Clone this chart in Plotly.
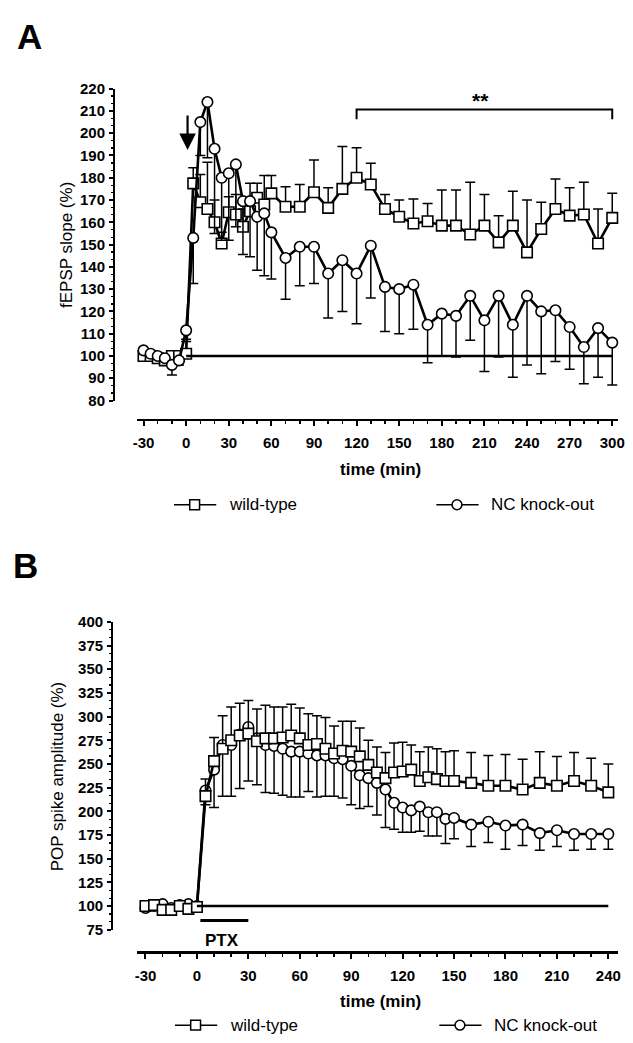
import plotly.graph_objects as go

W, H = 633, 1043

# ---------------- Panel A data (fEPSP slope, %) ----------------
a_time = [-30, -25, -20, -15, -10, -5, 0,
          5, 10, 15, 20, 25, 30, 35, 40, 45, 50, 55, 60,
          70, 80, 90, 100, 110, 120, 130, 140, 150, 160, 170, 180, 190, 200,
          210, 220, 230, 240, 250, 260, 270, 280, 290, 300]
a_wt = [100, 100, 99, 98, 100, 100, 101,
        177.5, 169, 166, 160, 150.5, 164.5, 163.5, 158, 165, 171, 168, 173,
        167, 167, 173.5, 166.5, 175, 180, 177, 166, 162.5, 159.5, 160.5, 158.5, 158.5, 154.5,
        158.5, 151, 158.5, 146.5, 157, 166, 163, 163.5, 150.5, 162]
a_wt_err = [1, 1, 1.5, 1.5, 1, 1.5, 5.5,
            7, 12.5, 21, 10, 5, 7, 9, 8, 12.5, 6.5, 13, 8,
            9, 10, 14.5, 9, 19, 13.5, 9.5, 6.5, 7.5, 11, 8, 16, 16, 23.5,
            14, 12, 15.5, 23.5, 12, 13.5, 12.5, 14.5, 15.5, 11]
a_nc = [102.5, 101, 100, 99, 96, 98, 111.5,
        153, 205, 214, 193, 180, 182, 186, 169.5, 169.5, 162.5, 164, 155.5,
        144, 149, 149, 137, 143, 137, 149.5, 131, 130, 132, 114, 119, 118, 127,
        116, 127, 114, 127, 120, 120.5, 113, 104, 112.5, 106]
a_nc_err = [1, 1, 1, 1, 4.5, 2, 4,
            20.5, 15, 25, 38, 28, 30, 28, 24, 25, 24, 28, 21,
            18.5, 17.5, 16.5, 20, 23, 22.5, 23.5, 20, 20, 20, 17, 19, 18.5, 20,
            23, 27.5, 23.5, 31, 28, 23, 19, 16.5, 22, 19]
a_xticks = [-30, 0, 30, 60, 90, 120, 150, 180, 210, 240, 270, 300]
a_xticklabels = ["-30", "0", "30", "60", "90", "120", "150", "180", "210", "240", "270", "300"]
a_yticks = [80, 90, 100, 110, 120, 130, 140, 150, 160, 170, 180, 190, 200, 210, 220]
a_bracket = [120, 300]

# ---------------- Panel B data (POP spike amplitude, %) ----------------
b_time = [-30, -25, -20, -15, -10, -5, 0,
          5, 10, 15, 20, 25, 30, 35, 40, 45, 50, 55, 60, 65, 70, 75, 80, 85, 90,
          95, 100, 105, 110, 115, 120, 125, 130, 135, 140, 145, 150,
          160, 170, 180, 190, 200, 210, 220, 230, 240]
b_wt = [100, 101, 96, 96, 100, 97, 99,
        216, 253, 266, 275, 280, 282, 274, 277, 277, 278, 280, 277, 270, 271, 266, 261, 264, 263,
        258, 249, 241, 235, 241, 242, 244, 232, 236, 234, 232, 232,
        230, 227, 227, 223, 230, 227, 232, 227, 220]
b_wt_err = [2, 2, 3, 2, 2, 2, 2,
            18, 25, 35, 35, 34, 35, 34, 35, 33, 32, 33, 32, 33, 30, 33, 29, 31, 32,
            30, 26, 27, 27, 31, 31, 26, 31, 32, 32, 31, 32,
            32, 32, 33, 32, 33, 31, 30, 29, 30]
b_nc = [98, 100, 102, 98, 101, 102, 100,
        222, 244, 270, 270, 281, 289, 277, 270, 269, 266, 263, 263, 261, 259, 259, 256, 255, 248,
        238, 235, 230, 223, 209, 204, 201, 205, 199, 199, 192, 193,
        186, 189, 185, 186, 177, 180, 176, 176, 176]
b_nc_err = [2, 2, 2, 2, 2, 2, 2,
            15, 40, 54, 54, 57, 57, 49, 50, 50, 49, 48, 48, 40, 44, 43, 40, 41, 41,
            35, 30, 34, 40, 28, 26, 23, 26, 25, 25, 26, 22,
            23, 22, 25, 22, 18, 17, 17, 16, 16]
b_xticks = [-30, 0, 30, 60, 90, 120, 150, 180, 210, 240]
b_xticklabels = ["-30", "0", "30", "60", "90", "120", "150", "180", "210", "240"]
b_yticks = [75, 100, 125, 150, 175, 200, 225, 250, 275, 300, 325, 350, 375, 400]
ptx_period = [2, 30]

BASELINE = 100
series_names = ["wild-type", "NC knock-out"]

FONT = "Liberation Sans, Arial, sans-serif"


def px(x):
    return x / W


def py(y):
    return 1 - y / H


fig = go.Figure()


def add_series(xa, ya, t, v, err, up, symbol):
    zeros = [0] * len(err)
    fig.add_trace(go.Scatter(
        x=t, y=v, xaxis=xa, yaxis=ya, mode="lines+markers", showlegend=False,
        cliponaxis=False, hoverinfo="skip",
        line=dict(color="black", width=2.6),
        marker=dict(symbol=symbol, size=10.5, color="white",
                    line=dict(color="black", width=1.6)),
        error_y=dict(type="data", symmetric=False,
                     array=err if up else zeros,
                     arrayminus=zeros if up else err,
                     color="black", thickness=1.5, width=5),
    ))


# Panel A: wild-type below, knock-out on top
add_series("x", "y", a_time, a_wt, a_wt_err, True, "square")
add_series("x", "y", a_time, a_nc, a_nc_err, False, "circle")
# Panel B: knock-out below, wild-type on top
add_series("x2", "y2", b_time, b_nc, b_nc_err, False, "circle")
add_series("x2", "y2", b_time, b_wt, b_wt_err, True, "square")

tickfont = dict(family=FONT, size=15, color="black", weight="bold")

common_x = dict(showgrid=False, zeroline=False, showline=True, linecolor="black",
                linewidth=2.2, ticks="outside", ticklen=5, tickwidth=2,
                tickcolor="black", tickfont=tickfont, anchor="free",
                ticklabelstandoff=4, ticklabeloverflow="allow",
                minor=dict(ticks="outside", ticklen=3, tickwidth=1.5,
                           tickcolor="black", tick0=-30, dtick=10, showgrid=False))
common_y = dict(showgrid=False, zeroline=False, showline=True, linecolor="black",
                linewidth=2.2, ticks="outside", ticklen=4, tickwidth=2,
                tickcolor="black", tickfont=tickfont, anchor="free",
                ticklabelstandoff=1, ticklabeloverflow="allow")

fig.update_layout(
    width=W, height=H, autosize=False,
    margin=dict(l=0, r=0, t=0, b=0),
    paper_bgcolor="white", plot_bgcolor="white",
    showlegend=False, hovermode=False,
    xaxis=dict(common_x, domain=[px(135), px(625)], range=[-34.84, 304.15],
               position=py(418), tickmode="array", tickvals=a_xticks,
               ticktext=a_xticklabels),
    yaxis=dict(common_y, domain=[py(398), py(81)], range=[80, 220],
               position=px(112), tickmode="array", tickvals=a_yticks,
               minor=dict(ticks="outside", ticklen=2.5, tickwidth=1.2,
                          tickcolor="black", tick0=80, dtick=10 / 3, showgrid=False)),
    xaxis2=dict(common_x, domain=[px(135), px(625)], range=[-35.16, 245.73],
                position=py(959), tickmode="array", tickvals=b_xticks,
                ticktext=b_xticklabels),
    yaxis2=dict(common_y, domain=[py(936), py(623)], range=[75, 400],
                position=px(110), tickmode="array", tickvals=b_yticks,
                minor=dict(ticks="outside", ticklen=2.5, tickwidth=1.2,
                           tickcolor="black", tick0=75, dtick=25 / 3, showgrid=False)),
)

shapes = []
ann = []

# baselines at 100 %
shapes.append(dict(type="line", xref="x", yref="y", x0=0, x1=a_time[-1],
                   y0=BASELINE, y1=BASELINE, line=dict(color="black", width=2.4)))
shapes.append(dict(type="line", xref="x2", yref="y2", x0=0, x1=b_time[-1],
                   y0=BASELINE, y1=BASELINE, line=dict(color="black", width=2.4)))

# significance bracket in A
shapes.append(dict(type="path", xref="x", yref="y",
                   path=f"M {a_bracket[0]},206.3 L {a_bracket[0]},210.7 L {a_bracket[1]},210.7 L {a_bracket[1]},206.3",
                   line=dict(color="black", width=2)))
ann.append(dict(xref="x", yref="y", x=sum(a_bracket) / 2 - 3, y=214.5, text="<b>**</b>",
                showarrow=False, font=dict(family=FONT, size=21, color="black"),
                xanchor="center", yanchor="middle"))

# stimulation arrow in A
ann.append(dict(xref="x", yref="y", x=1, y=192.5, ax=0, ay=-36, axref="pixel", ayref="pixel",
                text="", showarrow=True, arrowhead=2, arrowsize=1.5, arrowwidth=2.2,
                arrowcolor="black"))

# PTX bar in B
shapes.append(dict(type="line", xref="x2", yref="y2", x0=ptx_period[0], x1=ptx_period[1],
                   y0=84.7, y1=84.7, line=dict(color="black", width=3)))
ann.append(dict(xref="paper", yref="paper", x=px(222), y=py(947),
                text="<b>PTX</b>", showarrow=False,
                font=dict(family=FONT, size=17, color="black"),
                xanchor="center", yanchor="middle"))

# panel letters
ann.append(dict(xref="paper", yref="paper", x=px(26), y=py(28), text="<b>A</b>",
                showarrow=False, font=dict(family=FONT, size=35, color="black"),
                xanchor="center", yanchor="middle"))
ann.append(dict(xref="paper", yref="paper", x=px(22), y=py(566), text="<b>B</b>",
                showarrow=False, font=dict(family=FONT, size=35, color="black"),
                xanchor="center", yanchor="middle"))

# axis titles
ann.append(dict(xref="paper", yref="paper", x=px(63), y=py(240), text="fEPSP slope (%)",
                textangle=-90, showarrow=False,
                font=dict(family=FONT, size=17, color="black"),
                xanchor="center", yanchor="middle"))
ann.append(dict(xref="paper", yref="paper", x=px(54), y=py(780), text="POP spike amplitude (%)",
                textangle=-90, showarrow=False,
                font=dict(family=FONT, size=17, color="black"),
                xanchor="center", yanchor="middle"))
for yy in (468, 1009):
    ann.append(dict(xref="paper", yref="paper", x=px(383), y=py(yy), text="<b>time (min)</b>",
                    showarrow=False, font=dict(family=FONT, size=17, color="black"),
                    xanchor="center", yanchor="middle"))


# hand-drawn style legends
def legend_item(x0, yc, name, kind):
    shapes.append(dict(type="line", xref="paper", yref="paper", x0=px(x0), x1=px(x0 + 43),
                       y0=py(yc), y1=py(yc), line=dict(color="black", width=1.5)))
    cx = x0 + 21
    stype = "rect" if kind == "square" else "circle"
    shapes.append(dict(type=stype, xref="paper", yref="paper",
                       x0=px(cx - 5), x1=px(cx + 5), y0=py(yc + 5), y1=py(yc - 5),
                       fillcolor="white", line=dict(color="black", width=1.5)))
    ann.append(dict(xref="paper", yref="paper", x=px(x0 + 54), y=py(yc), text=name,
                    showarrow=False, font=dict(family=FONT, size=17, color="black"),
                    xanchor="left", yanchor="middle"))


legend_item(173, 504, series_names[0], "square")
legend_item(440, 504, series_names[1], "circle")
legend_item(174, 1033, series_names[0], "square")
legend_item(443, 1033, series_names[1], "circle")

fig.update_layout(shapes=shapes, annotations=ann)

fig.write_html("out.html", config={"displayModeBar": False, "staticPlot": True},
               post_script="document.body.style.margin='0px';document.body.style.overflow='hidden';")
